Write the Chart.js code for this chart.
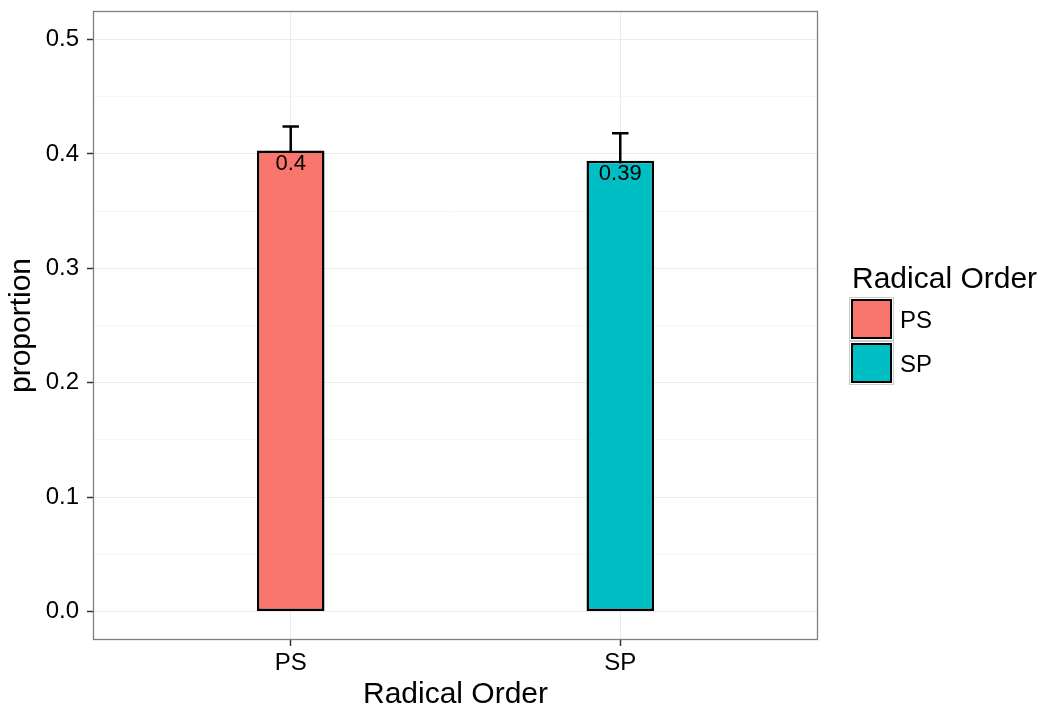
<!DOCTYPE html>
<html>
<head>
<meta charset="utf-8">
<script src="https://cdn.jsdelivr.net/npm/chart.js@4/dist/chart.umd.min.js"></script>
<style>
  html, body { margin: 0; padding: 0; background: #ffffff; }
  #wrap { position: relative; width: 1045px; height: 713px; }
  #chart { position: absolute; left: 0; top: 0; }
  .legend { position: absolute; left: 0; top: 0; font-family: 'Liberation Sans', Arial, sans-serif; color: #000; }
  .legend-title { position: absolute; left: 852px; top: 263px; font-size: 30px; line-height: 30px; white-space: nowrap; }
  .legend-key { position: absolute; left: 849px; width: 45px; height: 44px; border: 1px solid #cccccc; background: #fff; box-sizing: border-box; }
  .legend-key .fill { position: absolute; left: 1px; top: 1px; right: 1px; bottom: 1px; border: 2.5px solid #000; box-sizing: border-box; }
  .legend-label { position: absolute; left: 900px; font-size: 24px; line-height: 24px; white-space: nowrap; }
</style>
</head>
<body>
<div id="wrap">
  <canvas id="chart" width="1045" height="713"></canvas>
  <div class="legend" id="legend"></div>
</div>
<script>
// Groups and their mean proportions with standard errors
const categories = ['PS', 'SP'];
const proportions = [0.403, 0.394];
const errors = [0.021, 0.024];
const fillColors = ['#F8766D', '#00BFC4'];

// Y axis breaks
const majorTicks = [0, 0.1, 0.2, 0.3, 0.4, 0.5];
const minorTicks = [0.05, 0.15, 0.25, 0.35, 0.45];

const legendTitle = 'Radical Order';
const xTitle = 'Radical Order';
const yTitle = 'proportion';

const FONT = "'Liberation Sans', Arial, sans-serif";
Chart.defaults.font.family = FONT;
Chart.defaults.color = '#000';

const valueLabels = proportions.map(v => String(Number(v.toFixed(2))));

// error bars sit behind the bars, so only the upper half shows
const errorBarPlugin = {
  id: 'errorBars',
  beforeDatasetsDraw(chart) {
    const { ctx, scales: { x, y } } = chart;
    const capHalf = (x.getPixelForValue(1.025) - x.getPixelForValue(1));
    ctx.save();
    ctx.strokeStyle = '#000';
    ctx.lineWidth = 2.5;
    proportions.forEach((v, i) => {
      const px = x.getPixelForValue(i + 1);
      const top = y.getPixelForValue(v + errors[i]);
      const bot = y.getPixelForValue(v - errors[i]);
      ctx.beginPath();
      ctx.moveTo(px, top); ctx.lineTo(px, bot);
      ctx.moveTo(px - capHalf, top); ctx.lineTo(px + capHalf, top);
      ctx.moveTo(px - capHalf, bot); ctx.lineTo(px + capHalf, bot);
      ctx.stroke();
    });
    ctx.restore();
  },
  afterDatasetsDraw(chart) {
    const { ctx, scales: { x, y } } = chart;
    ctx.save();
    ctx.fillStyle = '#000';
    ctx.font = '22px ' + FONT;
    ctx.textAlign = 'center';
    ctx.textBaseline = 'middle';
    proportions.forEach((v, i) => {
      ctx.fillText(valueLabels[i], x.getPixelForValue(i + 1), y.getPixelForValue(v) + 13);
    });
    ctx.restore();
  },
  afterDraw(chart) {
    const { ctx, chartArea: a } = chart;
    ctx.save();
    ctx.strokeStyle = '#7f7f7f';
    ctx.lineWidth = 1.3;
    ctx.strokeRect(a.left + 0.5, a.top + 0.5, a.right - a.left - 1, a.bottom - a.top - 1);
    ctx.restore();
  }
};

new Chart(document.getElementById('chart'), {
  type: 'bar',
  data: {
    datasets: [{
      data: proportions.map((v, i) => ({ x: i + 1, y: v })),
      backgroundColor: fillColors,
      borderColor: '#000',
      borderWidth: 2.5,
      borderSkipped: false,
      barPercentage: 0.205,
      categoryPercentage: 1
    }]
  },
  options: {
    responsive: false,
    animation: false,
    layout: { padding: { left: 0, top: 11, right: 227, bottom: 0 } },
    plugins: { legend: { display: false }, tooltip: { enabled: false } },
    scales: {
      x: {
        type: 'linear',
        offset: false,
        min: 0.4,
        max: 2.6,
        afterBuildTicks: s => { s.ticks = categories.map((c, i) => ({ value: i + 1 })); },
        afterFit: s => { s.height = 73; s.paddingLeft = 0; s.paddingRight = 0; },
        ticks: {
          callback: v => categories[Math.round(v) - 1],
          font: { size: 24 },
          color: '#000',
          padding: 3,
          autoSkip: false,
          maxRotation: 0
        },
        grid: { offset: false, color: '#ebebeb', lineWidth: 1, tickColor: '#333', tickLength: 6, tickWidth: 1.5 },
        border: { display: false },
        title: { display: true, text: xTitle, font: { size: 30 }, color: '#000', padding: { top: 0, bottom: 0 } }
      },
      y: {
        min: -0.025,
        max: 0.525,
        afterBuildTicks: s => { s.ticks = majorTicks.concat(minorTicks).sort((a, b) => a - b).map(v => ({ value: v })); },
        afterFit: s => { s.width = 93; s.paddingTop = 0; s.paddingBottom = 0; },
        ticks: {
          callback: v => majorTicks.includes(v) ? v.toFixed(1) : '',
          font: { size: 24 },
          color: '#000',
          padding: 8,
          autoSkip: false
        },
        grid: {
          color: c => majorTicks.includes(c.tick.value) ? '#ebebeb' : '#f6f6f6',
          tickColor: c => majorTicks.includes(c.tick.value) ? '#333' : 'rgba(0,0,0,0)',
          lineWidth: 1,
          tickLength: 6,
          tickWidth: 1.5
        },
        border: { display: false },
        title: { display: true, text: yTitle, font: { size: 30 }, color: '#000', padding: { top: 4, bottom: 0 } }
      }
    }
  },
  plugins: [errorBarPlugin]
});

// legend for the fill scale
const legend = document.getElementById('legend');
const t = document.createElement('div');
t.className = 'legend-title';
t.textContent = legendTitle;
legend.appendChild(t);
categories.forEach((c, i) => {
  const top = 297 + i * 44;
  const key = document.createElement('div');
  key.className = 'legend-key';
  key.style.top = top + 'px';
  const fill = document.createElement('div');
  fill.className = 'fill';
  fill.style.background = fillColors[i];
  key.appendChild(fill);
  legend.appendChild(key);
  const lab = document.createElement('div');
  lab.className = 'legend-label';
  lab.style.top = (top + 22 - 12 + 1) + 'px';
  lab.textContent = c;
  legend.appendChild(lab);
});
</script>
</body>
</html>
